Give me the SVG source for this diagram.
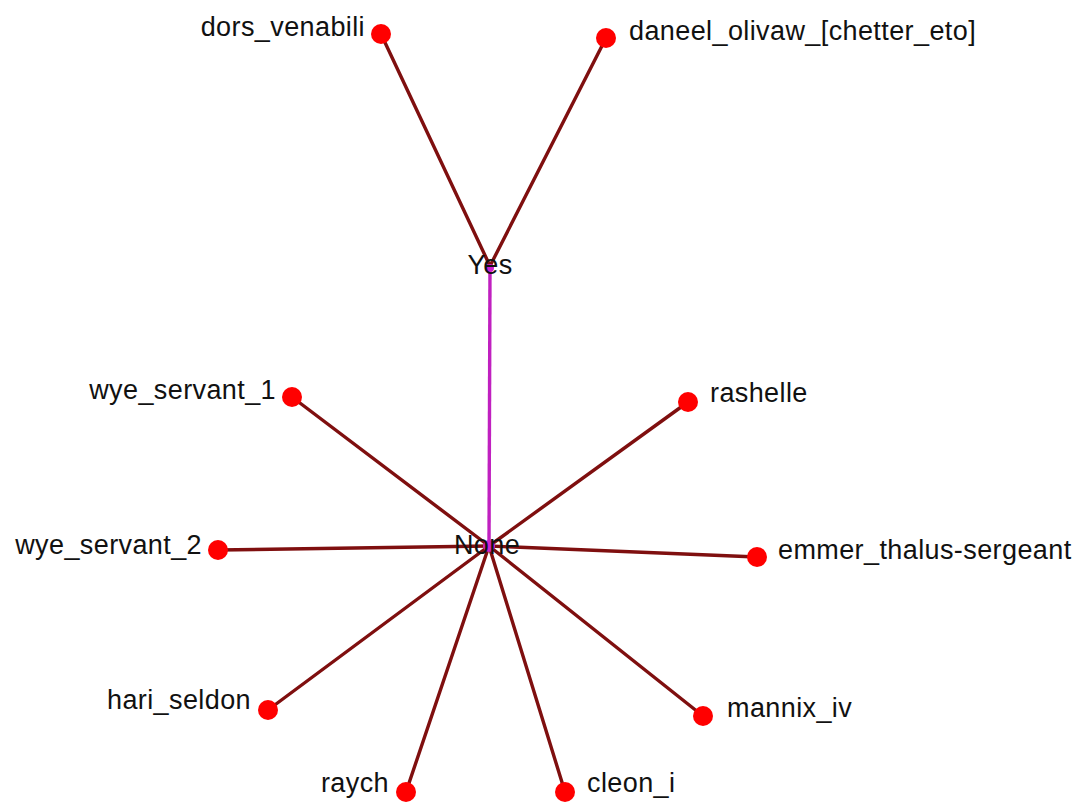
<svg xmlns="http://www.w3.org/2000/svg" width="1078" height="803" viewBox="0 0 1078 803">
<style>
.e{stroke:#7f0f0f;stroke-width:3.4;fill:none;stroke-linecap:round}
.m{stroke:#c020c0;stroke-width:3.4;fill:none}
.n{fill:#ff0000}
.c{fill:#d020d0}
text{font-family:"Liberation Sans",Arial,sans-serif;font-size:27px;fill:#111;letter-spacing:0.4px}
.r{text-anchor:end}
.mid{text-anchor:middle}
</style>
<rect width="1078" height="803" fill="#ffffff"/>
<g id="connectors">
<line class="e" x1="490" y1="266" x2="381" y2="34"/>
<line class="e" x1="490" y1="266" x2="606" y2="38"/>
<line class="m" x1="490" y1="268" x2="489" y2="546"/>
<line class="e" x1="489" y1="546" x2="292" y2="397"/>
<line class="e" x1="489" y1="546" x2="688" y2="402"/>
<line class="e" x1="489" y1="546" x2="218" y2="550"/>
<line class="e" x1="489" y1="546" x2="757" y2="557"/>
<line class="e" x1="489" y1="546" x2="268" y2="710"/>
<line class="e" x1="489" y1="546" x2="703" y2="716"/>
<line class="e" x1="489" y1="546" x2="406" y2="792"/>
<line class="e" x1="489" y1="546" x2="565" y2="792"/>
</g>
<g id="node-dors_venabili"><circle class="n" cx="381" cy="34" r="10"/><text class="r" x="365" y="36">dors_venabili</text></g>
<g id="node-daneel_olivaw"><circle class="n" cx="606" cy="38" r="10"/><text x="629" y="40">daneel_olivaw_[chetter_eto]</text></g>
<g id="node-Yes"><circle class="c" cx="490" cy="268" r="4"/><text class="mid" x="490" y="274">Yes</text></g>
<g id="node-wye_servant_1"><circle class="n" cx="292" cy="397" r="10"/><text class="r" x="276" y="399">wye_servant_1</text></g>
<g id="node-rashelle"><circle class="n" cx="688" cy="402" r="10"/><text x="710" y="402">rashelle</text></g>
<g id="node-wye_servant_2"><circle class="n" cx="218" cy="550" r="10"/><text class="r" x="202" y="554">wye_servant_2</text></g>
<g id="node-None"><circle class="c" cx="489" cy="546" r="6"/><text class="mid" x="487" y="554">None</text></g>
<g id="node-emmer_thalus-sergeant"><circle class="n" cx="757" cy="557" r="10"/><text x="778" y="559">emmer_thalus-sergeant</text></g>
<g id="node-hari_seldon"><circle class="n" cx="268" cy="710" r="10"/><text class="r" x="251" y="709">hari_seldon</text></g>
<g id="node-mannix_iv"><circle class="n" cx="703" cy="716" r="10"/><text x="727" y="717">mannix_iv</text></g>
<g id="node-raych"><circle class="n" cx="406" cy="792" r="10"/><text class="r" x="389" y="792">raych</text></g>
<g id="node-cleon_i"><circle class="n" cx="565" cy="792" r="10"/><text x="587" y="792">cleon_i</text></g>
</svg>
